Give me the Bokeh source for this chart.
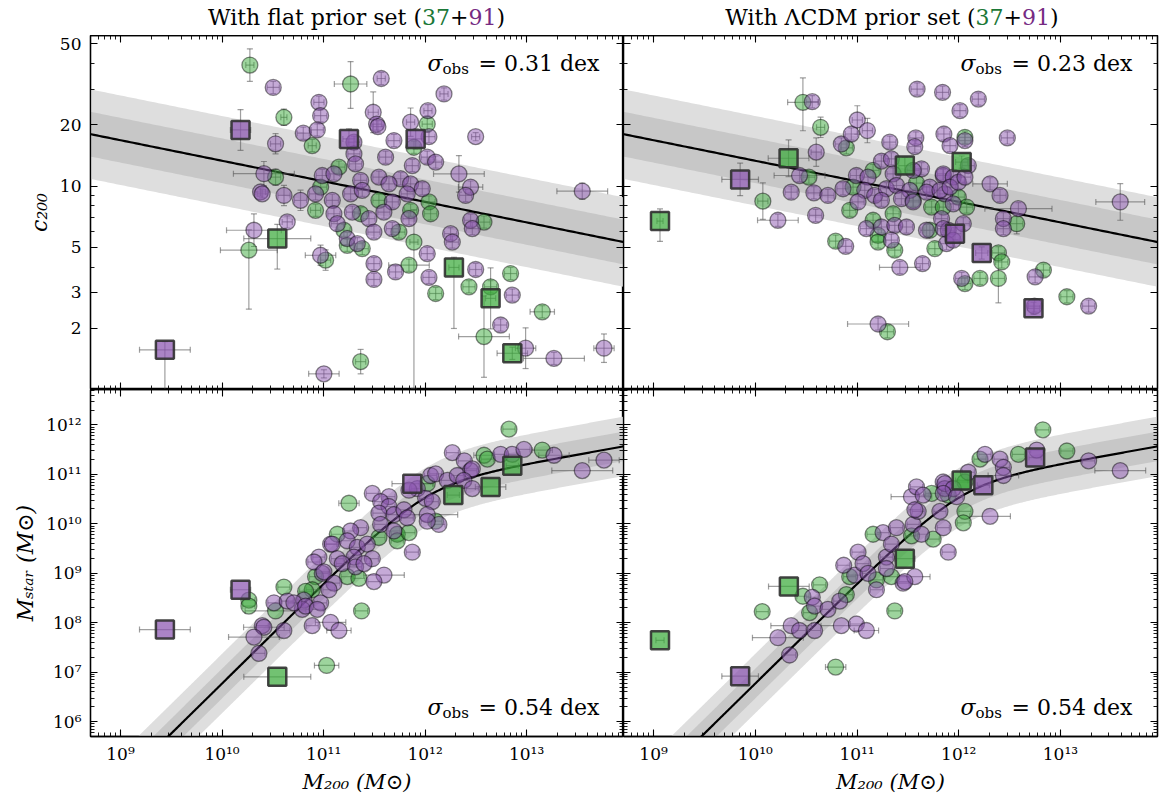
import numpy as np
from bokeh.plotting import figure
from bokeh.layouts import gridplot, column, row
from bokeh.models import Range1d, LogAxis, FixedTicker, Label, CustomJSTickFormatter, Div
from bokeh.embed import file_html
from bokeh.resources import INLINE

SERIF = "DejaVu Serif"
GREEN = "#3caa3c"
PURPLE = "#8b55b0"
TITLE_GREEN = "#1b7837"
TITLE_PURPLE = "#762a83"
ERR_COLOR = "#505050"

# ---------------- axis limits / ticks ----------------
X_LIM = (5.06e8, 9.0e13)
C_LIM = (1.0, 55.0)
MS_LIM = (5.0e5, 5.2e12)
X_TICKS = [1e9, 1e10, 1e11, 1e12, 1e13]
C_TICKS = [2, 3, 5, 10, 20, 50]
C_MINOR = [1, 4, 6, 7, 8, 9, 30, 40]
MS_TICKS = [1e6, 1e7, 1e8, 1e9, 1e10, 1e11, 1e12]

# ---------------- model relations ----------------
CM_A, CM_B, CM_H, CM_SCATTER = 0.905, -0.101, 0.671, 0.11
SH_LOGM1, SH_LOGN, SH_BETA, SH_GAMMA, SH_SCATTER = 12.02, -1.47, 1.02, 0.63, 0.30

SIGMA_TEXT = {"tl": "0.31", "tr": "0.23", "bl": "0.54", "br": "0.54"}
TITLE_PREFIX = {"tl": "With flat prior set (", "tr": "With ΛCDM prior set ("}
TITLE_COUNTS = ("37", "91")

# ---------------- data: flat prior, c200 vs M200 (log10 values) ----------------
TL_M = [10.274, 10.504, 10.609, 10.182, 10.800, 10.527, 10.412, 10.527, 10.379, 10.395,
        10.610, 10.773, 10.921, 10.642, 10.314, 10.544, 10.264, 10.970, 11.020, 9.437,
        11.003, 11.266, 11.568, 12.186, 10.954, 10.971, 11.489, 11.522, 11.535, 12.028,
        12.021, 11.857, 12.498, 10.938, 10.888, 11.250, 11.907, 11.299, 11.299, 11.315,
        11.693, 12.038, 11.890, 12.021, 12.104, 11.874, 11.611, 12.333, 11.151, 10.987,
        11.102, 10.971, 11.365, 11.545, 11.759, 11.644, 11.857, 11.972, 12.448, 12.399,
        10.921, 11.086, 11.266, 11.381, 11.545, 11.677, 11.824, 12.038, 12.054, 11.857,
        11.594, 11.102, 11.283, 11.365, 11.447, 12.448, 12.580, 12.465, 12.251, 12.268,
        11.841, 11.135, 11.200, 11.496, 11.742, 11.677, 11.233, 11.332, 11.233, 11.381,
        11.890, 12.021, 11.496, 11.841, 11.709, 11.496, 12.038, 12.284, 12.498, 12.104,
        12.432, 12.645, 12.645, 12.842, 12.859, 12.744, 13.154, 12.580, 12.859, 12.990,
        13.269, 13.762, 13.548, 11.365]
TL_C = [1.595, 1.485, 1.338, 1.276, 1.260, 1.208, 1.061, 1.044, 0.971, 0.962,
        0.954, 0.930, 0.881, 0.824, 0.783, 0.742, 0.685, 0.660, 0.636, 0.195,
        0.077, 1.502, 1.529, 1.453, 1.412, 1.346, 1.363, 1.305, 1.292, 1.371,
        1.305, 1.314, 1.243, 1.276, 1.199, 1.232, 1.232, 1.216, 1.158, 1.109,
        1.224, 1.243, 1.191, 1.142, 1.118, 1.101, 1.142, 1.060, 1.093, 1.052,
        1.060, 0.995, 1.028, 1.044, 1.036, 1.011, 1.011, 0.987, 0.995, 0.954,
        0.962, 0.930, 0.962, 0.979, 0.930, 0.922, 0.962, 0.922, 0.864, 0.881,
        0.872, 0.864, 0.872, 0.864, 0.840, 0.832, 0.823, 0.791, 0.766, 0.725,
        0.840, 0.815, 0.783, 0.774, 0.774, 0.791, 0.742, 0.717, 0.709, 0.693,
        0.725, 0.668, 0.619, 0.611, 0.578, 0.541, 0.551, 0.600, 0.590, 0.472,
        0.505, 0.505, 0.448, 0.570, 0.464, 0.317, 0.382, 0.260, 0.178, 0.203,
        0.153, 0.203, 0.975, 0.137]
TL_K = ("gpgPpppgpp" "ppgppGgpgP" "pgpppppppp" "gpppgPPppp" "ppgpppppgp"
        "pgpppppppp" "ppppgppggg" "pppgppgppp" "ppgpgpppgg" "gppgpppGpg"
        "ggGgppggGp" "pppg")
TL_EX = ([0.04, 0.06, 0.03, 0.10, 0.06, 0.05, 0.30, 0.05, 0.05, 0.05,
          0.06, 0.06, 0.05, 0.05, 0.27, 0.33, 0.28, 0.15, 0.05, 0.25,
          0.15, 0.16, 0.04, 0.04, 0.05, 0.06, 0.05, 0.05, 0.05, 0.04,
          0.05, 0.04, 0.04, 0.06, 0.04, 0.06, 0.08, 0.06, 0.06, 0.06,
          0.06, 0.06, 0.06, 0.06, 0.06, 0.06, 0.06, 0.25, 0.06, 0.06,
          0.06, 0.06, 0.06, 0.06, 0.06, 0.06, 0.06, 0.06, 0.12, 0.06]
         + [0.06] * 30
         + [0.04, 0.06, 0.06, 0.20, 0.06, 0.06, 0.06, 0.05, 0.06, 0.06,
            0.06, 0.06, 0.05, 0.06, 0.06, 0.06, 0.12, 0.25, 0.15, 0.10,
            0.30, 0.10, 0.25, 0.05])
TL_EYL = ([0.08, 0.03, 0.04, 0.10, 0.03, 0.05, 0.06, 0.04, 0.02, 0.02,
           0.05, 0.05, 0.03, 0.03, 0.08, 0.15, 0.29, 0.05, 0.05, 0.25,
           0.02, 0.12, 0.03, 0.03, 0.03, 0.03, 0.10, 0.03, 0.03, 0.03,
           0.04, 0.07, 0.02, 0.03, 0.03, 0.05, 0.05, 0.03, 0.03, 0.03,
           0.03, 0.03, 0.03, 0.03, 0.03, 0.03, 0.03, 0.09, 0.03, 0.03]
          + [0.03] * 40
          + [0.72, 0.03, 0.03, 0.03, 0.03, 0.03, 0.03, 0.30, 0.03, 0.03,
             0.03, 0.03, 0.15, 0.03, 0.03, 0.03, 0.03, 0.20, 0.03, 0.10,
             0.03, 0.07, 0.04, 0.06])
TL_EYH = ([0.08, 0.03, 0.04, 0.10, 0.03, 0.05, 0.06, 0.04, 0.02, 0.02,
           0.05, 0.05, 0.03, 0.03, 0.08, 0.07, 0.10, 0.05, 0.05, 0.04,
           0.02, 0.11, 0.03, 0.03, 0.03, 0.03, 0.10, 0.03, 0.03, 0.03,
           0.04, 0.07, 0.02, 0.03, 0.03, 0.05, 0.05, 0.03, 0.03, 0.03,
           0.03, 0.03, 0.03, 0.03, 0.03, 0.03, 0.03, 0.09, 0.03, 0.03]
          + [0.03] * 40
          + [0.16, 0.03, 0.03, 0.03, 0.03, 0.03, 0.03, 0.05, 0.03, 0.03,
             0.03, 0.03, 0.15, 0.03, 0.03, 0.03, 0.03, 0.20, 0.03, 0.10,
             0.03, 0.07, 0.04, 0.06])

# ---------------- data: LCDM prior, c200 vs M200 ----------------
TR_M = [9.063, 9.851, 10.327, 11.470, 10.468, 10.560, 10.642, 10.599, 10.435, 10.527,
        10.353, 10.576, 10.714, 10.074, 10.222, 10.593, 10.790, 10.889, 10.846, 10.895,
        10.944, 11.003, 11.102, 11.322, 11.578, 11.568, 11.591, 11.841, 11.854, 11.240,
        11.338, 10.994, 11.108, 11.158, 11.355, 11.634, 11.585, 10.862, 10.961, 11.076,
        11.174, 11.289, 11.388, 11.519, 11.716, 11.847, 11.864, 10.928, 11.010, 11.240,
        11.437, 11.552, 11.733, 11.831, 11.355, 11.158, 11.092, 11.240, 11.371, 11.486,
        11.683, 11.716, 11.897, 11.207, 11.207, 11.338, 11.371, 11.765, 11.880, 11.421,
        11.644, 11.207, 11.299, 12.193, 12.012, 12.478, 11.914, 12.061, 12.061, 12.029,
        12.094, 12.308, 12.406, 12.587, 12.570, 12.439, 12.439, 13.588, 11.963, 12.226,
        12.735, 12.390, 12.423, 12.029, 12.061, 12.209, 12.390, 12.751, 12.833, 13.063,
        13.277, 12.745, 11.552, 11.848, 11.946, 11.684, 11.815, 11.914, 11.996, 12.061,
        11.552, 11.848, 11.946, 11.996, 12.078, 11.848, 11.946, 12.045]
TR_C = [0.828, 1.033, 1.137, 1.101, 1.412, 1.415, 1.289, 1.167, 1.052, 1.044,
        0.970, 0.967, 0.954, 0.926, 0.832, 0.856, 0.729, 0.704, 1.207, 1.188,
        1.256, 1.325, 1.273, 1.216, 1.237, 1.194, 1.477, 1.461, 1.256, 1.123,
        1.134, 1.052, 1.044, 1.077, 1.060, 1.085, 1.015, 0.987, 0.995, 0.979,
        0.954, 0.987, 1.003, 0.979, 0.995, 1.052, 0.962, 0.881, 0.922, 0.930,
        0.938, 0.922, 0.897, 0.840, 0.864, 0.832, 0.791, 0.799, 0.807, 0.799,
        0.783, 0.783, 0.783, 0.758, 0.725, 0.734, 0.685, 0.693, 0.717, 0.600,
        0.619, 0.322, 0.284, 1.428, 1.371, 1.237, 1.199, 1.240, 1.224, 1.118,
        1.101, 1.011, 0.954, 0.889, 0.815, 0.840, 0.791, 0.922, 0.766, 0.671,
        0.399, 0.672, 0.627, 0.546, 0.521, 0.546, 0.546, 0.554, 0.587, 0.456,
        0.410, 0.410, 1.077, 1.060, 1.044, 0.970, 0.979, 0.995, 1.019, 1.044,
        0.930, 0.897, 0.913, 0.946, 0.897, 0.791, 0.734, 0.815]
TR_K = ("GPGGgpgppg" "pppgppgppg" "pppppppppp" "pppgppgpgp" "pppppppgpp"
        "ppgpggpppp" "pgpggpggpp" "ppgppppgpG" "ppppgpppPP" "Pggpgggpgg"
        "pppppppppp" "ggpggppp")
TR_EX = ([0.03, 0.18, 0.20, 0.06, 0.15, 0.06, 0.04, 0.05, 0.25, 0.06,
          0.06, 0.06, 0.06, 0.05, 0.20, 0.06, 0.06, 0.06, 0.06, 0.06,
          0.06, 0.05, 0.05, 0.06, 0.06, 0.06, 0.06, 0.06, 0.06, 0.06]
         + [0.06] * 39 + [0.20]
         + [0.06, 0.30, 0.06, 0.06, 0.06, 0.06, 0.06, 0.06, 0.06, 0.06,
            0.06, 0.17, 0.06, 0.33, 0.06, 0.06, 0.06, 0.24, 0.06, 0.06]
         + [0.06] * 28)
TR_EYL = ([0.10, 0.08, 0.09, 0.04, 0.14, 0.03, 0.05, 0.07, 0.03, 0.03,
           0.03, 0.03, 0.03, 0.09, 0.03, 0.03, 0.03, 0.03, 0.03, 0.03,
           0.03, 0.07, 0.06, 0.03, 0.03, 0.03, 0.03, 0.03, 0.03, 0.03]
          + [0.03] * 50
          + [0.03, 0.03, 0.03, 0.03, 0.05, 0.03, 0.03, 0.09, 0.03, 0.03,
             0.03, 0.03, 0.03, 0.03, 0.03, 0.03, 0.12, 0.03, 0.03, 0.03]
          + [0.03] * 18)
TR_EYH = ([0.06, 0.08, 0.09, 0.04, 0.12, 0.03, 0.05, 0.07, 0.03, 0.03,
           0.03, 0.03, 0.03, 0.09, 0.03, 0.03, 0.03, 0.03, 0.03, 0.03,
           0.03, 0.07, 0.06, 0.03, 0.03, 0.03, 0.03, 0.03, 0.03, 0.03]
          + [0.03] * 50
          + [0.03, 0.03, 0.03, 0.03, 0.05, 0.03, 0.03, 0.09, 0.03, 0.03,
             0.03, 0.03, 0.03, 0.03, 0.03, 0.03, 0.10, 0.03, 0.03, 0.03]
          + [0.03] * 18)

# ---------------- data: flat prior, Mstar vs M200 ----------------
BL_M = [9.437, 10.182, 10.544, 10.264, 10.264, 10.527, 10.609, 10.511, 10.642, 10.806,
        10.790, 10.396, 10.412, 10.314, 10.609, 10.363, 10.888, 11.069, 11.030, 10.921,
        10.954, 10.987, 11.069, 10.971, 10.888, 12.826, 12.268, 12.386, 12.580, 12.613,
        12.744, 12.859, 12.974, 13.154, 13.269, 13.762, 13.548, 12.859, 12.645, 12.278,
        11.874, 12.448, 12.465, 12.054, 12.104, 12.218, 12.317, 12.382, 12.465, 12.021,
        11.923, 11.841, 12.005, 12.071, 11.250, 11.480, 11.644, 11.562, 11.644, 11.545,
        11.693, 11.792, 11.824, 12.021, 12.104, 12.136, 12.021, 11.562, 11.693, 11.365,
        11.266, 11.135, 11.086, 11.233, 11.332, 11.430, 11.545, 11.726, 11.726, 11.841,
        11.874, 11.480, 11.135, 10.905, 11.299, 11.184, 11.315, 11.398, 11.003, 11.595,
        11.496, 11.233, 11.348, 11.102, 11.053, 10.823, 10.708, 10.823, 10.938, 11.151,
        11.374]
BL_S = [7.862, 8.667, 6.905, 8.456, 8.337, 8.238, 8.720, 8.403, 8.436, 8.456,
        8.271, 7.941, 7.908, 7.710, 7.842, 7.380, 7.941, 8.007, 7.136, 8.931,
        9.327, 8.997, 9.591, 8.403, 8.667, 11.914, 11.439, 11.274, 11.386, 11.307,
        11.406, 11.406, 11.505, 11.492, 11.386, 11.287, 11.076, 11.175, 10.746, 10.581,
        10.812, 11.076, 11.109, 10.977, 11.010, 10.878, 10.977, 10.878, 10.713, 10.812,
        10.713, 10.680, 10.515, 10.449, 10.416, 10.614, 10.548, 10.449, 10.350, 10.218,
        10.185, 10.284, 10.119, 10.185, 10.053, 9.987, 10.053, 9.987, 9.855, 9.921,
        9.855, 9.789, 9.591, 9.657, 9.525, 9.591, 9.723, 9.789, 9.657, 9.822,
        9.426, 9.294, 9.294, 9.228, 9.327, 9.195, 9.129, 9.195, 9.030, 8.964,
        8.832, 8.931, 8.898, 8.799, 8.667, 8.634, 8.403, 8.337, 8.271, 7.842,
        8.238]
BL_K = ("PPGggggppp" "ppppppppgg" "ppppggppgg" "pppgpppGGG" "Pppppppppg"
        "ppppgppppp" "ppppgppppp" "pgppppgggg" "pppppppppp" "pggppgpppp" "g")
BL_EX = ([0.25, 0.10, 0.33, 0.06, 0.06, 0.30, 0.06, 0.06, 0.06, 0.06,
          0.06, 0.06, 0.20, 0.25, 0.06, 0.06, 0.06, 0.15, 0.12, 0.06,
          0.06, 0.06, 0.06, 0.06, 0.06, 0.06, 0.06, 0.06, 0.10, 0.06,
          0.06, 0.06, 0.06, 0.10, 0.15, 0.15, 0.30, 0.06, 0.15, 0.06,
          0.20, 0.06, 0.06, 0.06, 0.06, 0.06, 0.06, 0.06, 0.06, 0.06,
          0.06, 0.06, 0.06, 0.06, 0.10, 0.06, 0.06, 0.06, 0.06, 0.06,
          0.06, 0.06, 0.06, 0.30, 0.06, 0.06, 0.06, 0.06, 0.06, 0.06]
         + [0.06] * 19 + [0.20]
         + [0.06] * 9 + [0.12, 0.06])

# ---------------- data: LCDM prior, Mstar vs M200 ----------------
BR_M = [9.063, 9.851, 10.330, 11.470, 10.068, 10.222, 10.337, 10.353, 10.435, 10.583,
        10.632, 10.468, 10.560, 10.583, 10.534, 10.714, 10.830, 10.895, 10.928, 10.977,
        10.846, 10.994, 11.092, 10.790, 11.371, 10.869, 11.010, 11.059, 11.108, 11.191,
        11.191, 11.289, 11.289, 11.338, 11.453, 11.568, 11.158, 11.256, 11.338, 11.388,
        11.552, 11.634, 11.749, 11.601, 11.535, 11.585, 11.650, 11.733, 11.847, 11.864,
        11.897, 11.897, 12.827, 13.063, 13.277, 13.588, 12.751, 12.767, 12.587, 12.406,
        12.258, 12.209, 12.439, 12.439, 12.242, 12.029, 12.061, 12.094, 11.864, 11.946,
        11.848, 11.979, 11.569, 11.815, 12.061, 12.045, 12.308, 11.848, 11.536, 11.470]
BR_S = [7.644, 6.918, 8.733, 9.294, 8.225, 7.697, 7.347, 7.941, 7.842, 7.842,
        8.766, 8.535, 8.515, 8.337, 8.205, 8.271, 8.436, 8.568, 8.931, 8.964,
        7.941, 7.974, 7.842, 7.103, 8.238, 9.162, 9.426, 9.195, 8.997, 8.865,
        8.667, 9.327, 9.096, 8.931, 8.799, 8.931, 9.789, 9.822, 9.591, 9.921,
        9.987, 9.789, 9.690, 10.251, 10.548, 10.746, 10.581, 10.614, 10.845, 10.713,
        10.581, 9.426, 11.901, 11.472, 11.274, 11.076, 11.340, 11.492, 11.406, 11.307,
        11.406, 11.307, 11.142, 10.977, 10.779, 10.878, 10.845, 11.043, 10.812, 10.713,
        10.614, 10.548, 10.284, 10.251, 10.251, 10.020, 10.152, 9.921, 9.756, 8.832]
BR_K = ("GPGGgppppp" "ggppgppggp" "pppggppppg" "pppgppgppp" "ppgppppgpp"
        "gpggppPpgp" "pgppPGgppp" "ppppggppgp")
BR_EX = ([0.04, 0.18, 0.20, 0.10, 0.06, 0.25, 0.06, 0.20, 0.06, 0.06]
         + [0.06] * 10
         + [0.20, 0.06, 0.12, 0.10, 0.06, 0.06, 0.06, 0.06, 0.06, 0.06]
         + [0.06] * 5 + [0.15] + [0.06] * 4
         + [0.06] * 4 + [0.20] + [0.06] * 5
         + [0.06] * 5 + [0.25] + [0.06] * 4
         + [0.06] * 3 + [0.15] + [0.06] * 6
         + [0.06] * 6 + [0.20] + [0.06] * 3)

# ---------------- helpers ----------------
SUP_JS = """
const sup = {"0":"\u2070","1":"\u00b9","2":"\u00b2","3":"\u00b3","4":"\u2074",
             "5":"\u2075","6":"\u2076","7":"\u2077","8":"\u2078","9":"\u2079","-":"\u207b"};
const e = Math.round(Math.log10(tick));
return "10" + String(e).split("").map(c => sup[c]).join("");
"""
PLAIN_JS = "return String(Math.round(tick));"
EMPTY_JS = "return '';"


def minor_log(lo, hi):
    return [k * 10.0 ** e for e in range(lo, hi) for k in range(2, 10)]


def style_axis(ax, ticks, minor, fmt_code, show):
    ax.ticker = FixedTicker(ticks=ticks, minor_ticks=minor)
    ax.major_tick_in = 7
    ax.major_tick_out = 0
    ax.minor_tick_in = 4
    ax.minor_tick_out = 0
    ax.axis_line_color = "black"
    ax.axis_line_width = 1.3
    ax.major_tick_line_color = "black"
    ax.major_tick_line_width = 1.1
    ax.minor_tick_line_color = "black"
    ax.minor_tick_line_width = 0.9
    if show:
        ax.formatter = CustomJSTickFormatter(code=fmt_code)
        ax.major_label_text_font = SERIF
        ax.major_label_text_font_size = "17px"
        ax.major_label_text_color = "black"
    else:
        ax.formatter = CustomJSTickFormatter(code=EMPTY_JS)
        ax.major_label_text_font_size = "0px"
        ax.major_label_standoff = 0
        ax.axis_label = None
        ax.axis_label_standoff = 0


def make_panel(y_lim, width, height, borders, y_ticks, y_minor, y_code,
               show_x, show_y, x_label=None, y_label=None):
    left, right, top, bottom = borders
    p = figure(width=width, height=height, x_axis_type="log", y_axis_type="log",
               x_range=Range1d(*X_LIM), y_range=Range1d(*y_lim),
               output_backend="svg", toolbar_location=None,
               min_border_left=left, min_border_right=right,
               min_border_top=top, min_border_bottom=bottom)
    p.xgrid.visible = False
    p.ygrid.visible = False
    p.outline_line_color = "black"
    p.outline_line_width = 1.3
    p.background_fill_color = "white"
    p.border_fill_color = "white"
    p.add_layout(LogAxis(), "above")
    p.add_layout(LogAxis(), "right")
    xminor = minor_log(8, 14)
    for ax in p.below:
        style_axis(ax, X_TICKS, xminor, SUP_JS, show_x)
    for ax in p.above:
        style_axis(ax, X_TICKS, xminor, SUP_JS, False)
    for ax in p.left:
        style_axis(ax, y_ticks, y_minor, y_code, show_y)
    for ax in p.right:
        style_axis(ax, y_ticks, y_minor, y_code, False)
    if show_x and x_label:
        ax = p.below[0]
        ax.axis_label = x_label
        ax.axis_label_text_font = SERIF
        ax.axis_label_text_font_size = "21px"
        ax.axis_label_text_font_style = "italic"
        ax.axis_label_text_color = "black"
        ax.axis_label_standoff = 3
        ax.major_label_standoff = 7
    if show_y and y_label:
        ax = p.left[0]
        ax.axis_label = y_label
        ax.axis_label_text_font = SERIF
        ax.axis_label_text_font_size = "22px"
        ax.axis_label_text_font_style = "italic"
        ax.axis_label_text_color = "black"
        ax.axis_label_standoff = 5
        ax.major_label_standoff = 9
    return p


def make_title_div(width, pad_left, prefix):
    html = (
        f'<div style="width:{width}px;height:35px;box-sizing:border-box;'
        f'padding-left:{pad_left}px;padding-top:5px;text-align:center;'
        f"font-family:'{SERIF}';font-size:22px;line-height:normal;color:black;"
        f'white-space:nowrap;overflow:visible">'
        f'{prefix}<span style="color:{TITLE_GREEN}">{TITLE_COUNTS[0]}</span>+'
        f'<span style="color:{TITLE_PURPLE}">{TITLE_COUNTS[1]}</span>)</div>'
    )
    return Div(text=html, width=width, height=35, margin=(0, 0, 0, 0))


def draw_cm_model(p):
    lm = np.linspace(8.6, 14.1, 200)
    lc = CM_A + CM_B * (lm - 12.0 + np.log10(CM_H))
    m = 10 ** lm
    p.varea(x=m, y1=10 ** (lc - 2 * CM_SCATTER), y2=10 ** (lc + 2 * CM_SCATTER), fill_color="#dedede")
    p.varea(x=m, y1=10 ** (lc - CM_SCATTER), y2=10 ** (lc + CM_SCATTER), fill_color="#c7c7c7")
    p.line(m, 10 ** lc, line_color="black", line_width=2.2)


def draw_shmr_model(p):
    lm = np.linspace(8.6, 14.1, 400)
    x = 10 ** (lm - SH_LOGM1)
    ls = np.log10(2.0) + SH_LOGN + lm - np.log10(x ** (-SH_BETA) + x ** SH_GAMMA)
    m = 10 ** lm
    p.varea(x=m, y1=10 ** (ls - 2 * SH_SCATTER), y2=10 ** (ls + 2 * SH_SCATTER), fill_color="#dedede")
    p.varea(x=m, y1=10 ** (ls - SH_SCATTER), y2=10 ** (ls + SH_SCATTER), fill_color="#c7c7c7")
    p.line(m, 10 ** ls, line_color="black", line_width=2.2)


def draw_points(p, logm, logy, kinds, ex, eyl=None, eyh=None):
    lm = np.array(logm)
    ly = np.array(logy)
    k = np.array(list(kinds))
    ex = np.array(ex)
    m = 10 ** lm
    y = 10 ** ly
    x0, x1 = 10 ** (lm - ex), 10 ** (lm + ex)
    p.segment(x0, y, x1, y, line_color=ERR_COLOR, line_alpha=0.55, line_width=1.2)
    p.scatter(np.concatenate([x0, x1]), np.concatenate([y, y]), marker="dash", angle=np.pi / 2,
              size=6, line_color=ERR_COLOR, line_alpha=0.55, line_width=1.2)
    if eyl is not None:
        y0, y1 = 10 ** (ly - np.array(eyl)), 10 ** (ly + np.array(eyh))
        p.segment(m, y0, m, y1, line_color=ERR_COLOR, line_alpha=0.55, line_width=1.2)
        p.scatter(np.concatenate([m, m]), np.concatenate([y0, y1]), marker="dash",
                  size=6, line_color=ERR_COLOR, line_alpha=0.55, line_width=1.2)
    for code, color in (("g", GREEN), ("p", PURPLE)):
        sel = k == code
        p.scatter(m[sel], y[sel], marker="circle", size=16, fill_color=color, fill_alpha=0.5,
                  line_color="black", line_alpha=0.45, line_width=1.3)
    for code, color in (("G", GREEN), ("P", PURPLE)):
        sel = k == code
        p.scatter(m[sel], y[sel], marker="square", size=18, fill_color=color, fill_alpha=0.72,
                  line_color="#303030", line_alpha=0.9, line_width=2.5)


def add_sigma(p, y, val):
    common = dict(x_units="screen", y_units="screen", text_font=SERIF,
                  text_color="black", text_baseline="alphabetic")
    p.add_layout(Label(x=337, y=y, text="σ", text_font_size="22px",
                       text_font_style="italic", **common))
    p.add_layout(Label(x=352, y=y - 5, text="obs", text_font_size="15px", **common))
    p.add_layout(Label(x=388, y=y, text="= " + val + " dex", text_font_size="22px", **common))


# ---------------- build panels ----------------
TOP_H, BOT_H = 354, 353
ms_minor = minor_log(5, 13)

title_l = make_title_div(623, 90, TITLE_PREFIX["tl"])
title_r = make_title_div(538, 0, TITLE_PREFIX["tr"])

tl = make_panel(C_LIM, 623, 354, (90, 0, 0, 0), C_TICKS, C_MINOR, PLAIN_JS,
                False, True, y_label="c₂₀₀")
tr = make_panel(C_LIM, 538, 354, (0, 4, 0, 0), C_TICKS, C_MINOR, PLAIN_JS,
                False, False)
bl = make_panel(MS_LIM, 623, 407, (90, 0, 0, 54), MS_TICKS, ms_minor, SUP_JS,
                True, True, x_label="M₂₀₀ (M⊙)", y_label="Mₛₜₐᵣ (M⊙)")
br = make_panel(MS_LIM, 538, 407, (0, 4, 0, 54), MS_TICKS, ms_minor, SUP_JS,
                True, False, x_label="M₂₀₀ (M⊙)")

draw_cm_model(tl)
draw_cm_model(tr)
draw_shmr_model(bl)
draw_shmr_model(br)

draw_points(tl, TL_M, TL_C, TL_K, TL_EX, TL_EYL, TL_EYH)
draw_points(tr, TR_M, TR_C, TR_K, TR_EX, TR_EYL, TR_EYH)
draw_points(bl, BL_M, BL_S, BL_K, BL_EX)
draw_points(br, BR_M, BR_S, BR_K, BR_EX)

add_sigma(tl, TOP_H - 28, SIGMA_TEXT["tl"])
add_sigma(tr, TOP_H - 28, SIGMA_TEXT["tr"])
add_sigma(bl, 29, SIGMA_TEXT["bl"])
add_sigma(br, 29, SIGMA_TEXT["br"])

grid = gridplot([[tl, tr], [bl, br]], toolbar_location=None)
layout = column(row(title_l, title_r, spacing=0), grid, spacing=0)

with open("out.html", "w") as f:
    f.write(file_html(layout, INLINE))
